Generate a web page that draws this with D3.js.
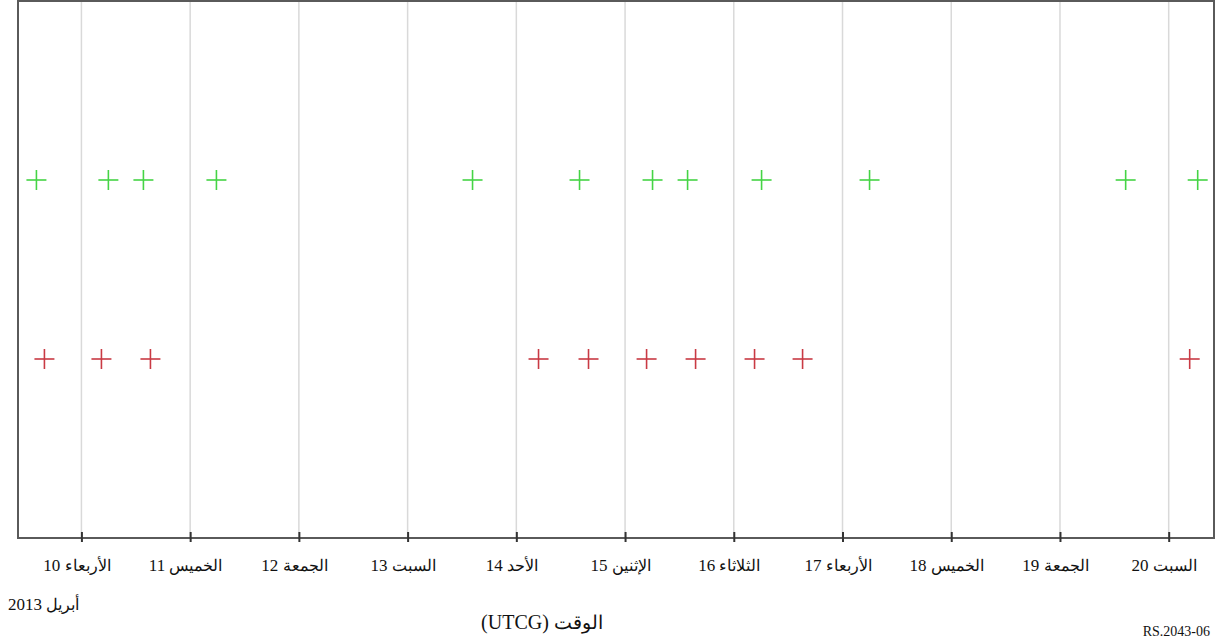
<!DOCTYPE html>
<html>
<head>
<meta charset="utf-8">
<script src="https://cdn.jsdelivr.net/npm/d3@7"></script>
<style>
  body { margin: 0; background: #fff; }
  text { font-family: "Liberation Serif", serif; fill: #111; }
  .num { font-family: "Liberation Serif", serif; }
</style>
</head>
<body>
<div id="chart"></div>
<script>
// pass times (UTC), April 2013
var greenTimes = [
  "2013-04-09T14:04", "2013-04-10T05:57", "2013-04-10T13:41", "2013-04-11T05:48",
  "2013-04-13T14:20", "2013-04-14T13:57", "2013-04-15T06:04", "2013-04-15T13:48",
  "2013-04-16T06:08", "2013-04-17T05:58", "2013-04-19T14:30", "2013-04-20T06:24"
];
var redTimes = [
  "2013-04-09T15:50", "2013-04-10T04:25", "2013-04-10T15:14", "2013-04-14T04:54",
  "2013-04-14T15:56", "2013-04-15T04:45", "2013-04-15T15:34", "2013-04-16T04:35",
  "2013-04-16T15:11", "2013-04-20T04:38"
];
var tickDays = [10, 11, 12, 13, 14, 15, 16, 17, 18, 19, 20];
var tickNames = ["الأربعاء", "الخميس", "الجمعة", "السبت", "الأحد", "الإثنين",
  "الثلاثاء", "الأربعاء", "الخميس", "الجمعة", "السبت"];
var monthName = "أبريل";
var monthYear = "2013";
var titleWord = "الوقت";
var titleUnit = "(UTCG)";
var figId = "RS.2043-06";

var W = 1216, H = 642;
var margin = {top: 1, right: 2, bottom: 104, left: 18},
    width = W - margin.left - margin.right,
    height = H - margin.top - margin.bottom;

var svg = d3.select("#chart").append("svg")
    .attr("width", W)
    .attr("height", H)
  .append("g")
    .attr("transform", "translate(" + margin.left + "," + margin.top + ")");

var parse = d3.utcParse("%Y-%m-%dT%H:%M");

var x = d3.scaleUtc()
  .domain([Date.UTC(2013, 3, 9, 10), Date.UTC(2013, 3, 20, 10)])
  .range([0, width]);

var y = d3.scaleLinear()
  .domain([0, 3])
  .range([0, height]);

var tickDates = tickDays.map(function (d) { return new Date(Date.UTC(2013, 3, d)); });

// grid lines
svg.append("g")
  .selectAll("line")
  .data(tickDates)
  .enter()
  .append("line")
    .attr("x1", function (d) { return x(d); })
    .attr("x2", function (d) { return x(d); })
    .attr("y1", 0)
    .attr("y2", height)
    .style("stroke", "#d9d9d9")
    .style("stroke-width", 1.5);

// frame
svg.append("rect")
  .attr("x", 0).attr("y", 0)
  .attr("width", width).attr("height", height)
  .style("fill", "none")
  .style("stroke", "#5a5a5a")
  .style("stroke-width", 2);

// x axis
var axis = svg.append("g")
  .attr("transform", "translate(0," + height + ")")
  .call(d3.axisBottom(x)
    .tickValues(tickDates)
    .tickSize(4)
    .tickSizeOuter(0)
    .tickFormat(""));

axis.select(".domain").remove();
axis.selectAll(".tick line")
  .attr("y1", -6)
  .attr("y2", 4)
  .style("stroke", "#333")
  .style("stroke-width", 2);

// number on the left, day name on the right
var lbl = axis.selectAll(".tick text")
  .text(null)
  .attr("y", 33)
  .attr("dx", -5)
  .attr("dy", 0)
  .attr("text-anchor", "middle")
  .style("font-size", "17px")
  .style("font-family", "'Liberation Serif', serif")
  .style("fill", "#111");
lbl.append("tspan").attr("class", "num").text(function (d, i) { return tickDays[i]; });
lbl.append("tspan").text(" ");
lbl.append("tspan").style("font-size", "16px").text(function (d, i) { return tickNames[i]; });

// labels
var month = svg.append("text")
  .attr("x", -10)
  .attr("y", height + 72)
  .attr("text-anchor", "start")
  .style("font-size", "17px");
month.append("tspan").attr("class", "num").text(monthYear);
month.append("tspan").text(" ");
month.append("tspan").style("font-size", "16px").text(monthName);

var title = svg.append("text")
  .attr("x", 524)
  .attr("y", height + 91)
  .attr("text-anchor", "middle")
  .style("font-size", "20px");
title.append("tspan").attr("class", "num").text(titleUnit);
title.append("tspan").text(" ");
title.append("tspan").style("font-size", "19px").text(titleWord);

svg.append("text")
  .attr("x", width - 4)
  .attr("y", height + 98)
  .attr("text-anchor", "end")
  .style("font-size", "14px")
  .text(figId);

// crosses
function crosses(times, row, color) {
  var g = svg.append("g").selectAll("g")
    .data(times)
    .enter()
    .append("g")
      .attr("transform", function (d) { return "translate(" + x(parse(d)) + "," + y(row) + ")"; });
  g.append("line").attr("x1", -10).attr("x2", 10).attr("y1", 0).attr("y2", 0);
  g.append("line").attr("x1", 0).attr("x2", 0).attr("y1", -10).attr("y2", 10);
  g.selectAll("line")
    .style("stroke", color)
    .style("stroke-width", 1.6);
}
crosses(greenTimes, 1, "#45d445");
crosses(redTimes, 2, "#c93a44");
</script>
</body>
</html>
